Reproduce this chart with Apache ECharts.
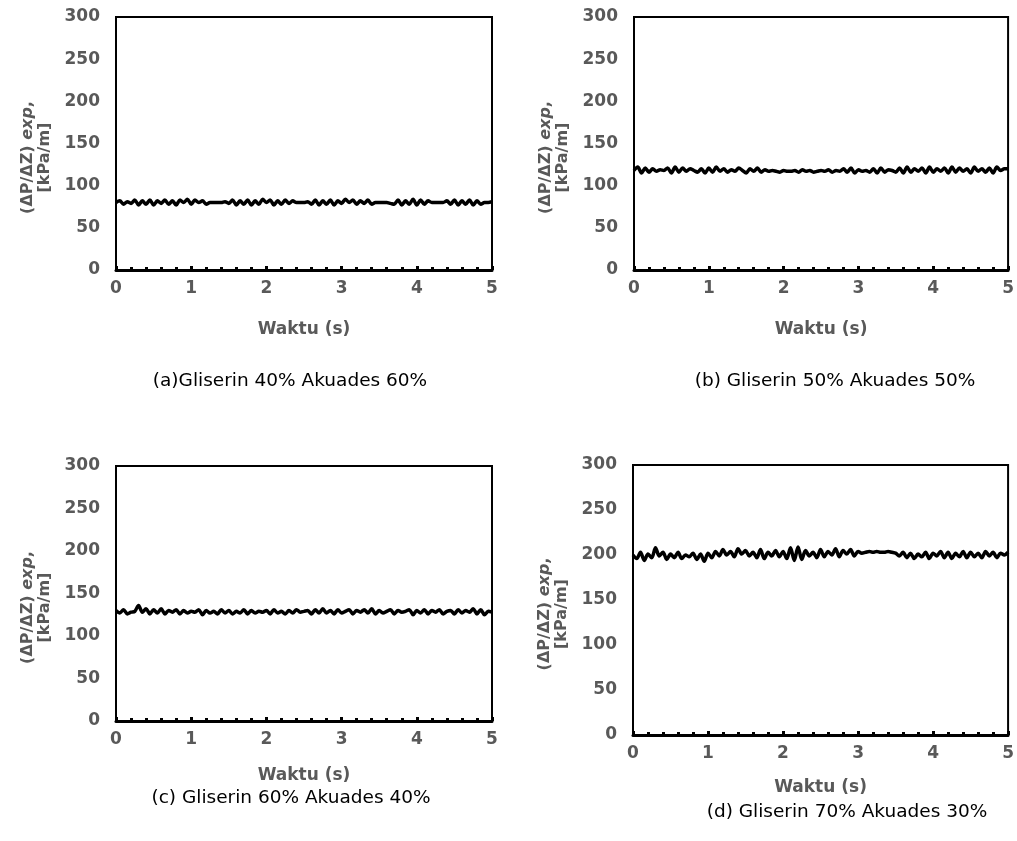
<!DOCTYPE html>
<html>
<head>
  <meta charset="UTF-8">
  <title>gliserin</title>
  <style>
  body { margin: 0; background: #fff; }
  #chart { width: 1017px; height: 841px; }
  </style>
  <script src="https://cdn.jsdelivr.net/npm/echarts@6/dist/echarts.min.js"></script>
</head>
<body>
  <div id="chart"></div>
  <script type="text/javascript">
  // sample step of the time axis (s)
  var step = 0.05;

  // (a) Gliserin 40% Akuades 60%
  var serA = [80,82,78,81,79,83,77,82,78,83,
    77,82,79,83,78,82,77,83,80,84,
    78,83,80,82,78,80,80,80,80,81,
    79,83,77,82,78,83,77,82,78,84,
    80,83,77,82,78,83,79,82,80,80,
    80,81,78,83,77,82,78,83,77,82,
    79,84,80,83,78,82,79,83,78,80,
    80,80,80,79,78,83,77,82,78,84,
    77,83,78,82,80,80,80,80,82,78,
    83,77,82,78,83,77,82,78,80,80,
    81];
  // (b) Gliserin 50% Akuades 50%
  var serB = [118,122,115,121,116,120,117,119,118,121,
    115,122,116,121,117,120,118,116,120,115,
    121,116,122,117,120,116,119,117,121,118,
    115,120,117,121,116,119,117,118,117,116,
    118,117,117,118,116,119,117,118,116,117,
    118,117,119,116,118,117,120,116,121,115,
    119,117,118,116,120,115,121,116,119,118,
    116,121,115,122,116,120,117,121,115,122,
    116,120,117,121,115,122,116,121,117,120,
    115,122,117,120,116,121,115,122,118,120,
    120];
  // (c) Gliserin 60% Akuades 40%
  var serC = [130,127,131,126,128,129,136,128,132,126,
    131,127,132,126,130,128,131,126,130,127,
    129,128,131,125,130,127,129,126,131,127,
    130,126,129,127,131,126,130,127,129,128,
    130,126,131,127,129,126,130,127,131,128,
    129,130,126,131,127,132,127,130,126,131,
    127,129,131,126,130,128,131,127,132,126,
    130,127,129,131,126,130,128,129,131,125,
    130,127,131,126,130,128,131,126,129,130,
    126,131,127,130,128,132,126,131,125,129,
    128];
  // (d) Gliserin 70% Akuades 30%
  var serD = [200,196,203,194,201,197,208,199,203,195,
    201,197,203,196,200,198,202,195,201,193,
    202,197,204,199,206,200,204,198,207,201,
    205,199,203,197,206,196,203,199,205,198,
    204,196,208,194,209,195,205,199,203,197,
    206,198,204,200,207,198,205,201,206,199,
    204,202,203,204,203,204,203,203,204,203,
    202,199,203,197,202,196,201,198,203,196,
    202,199,204,197,203,196,202,198,204,197,
    203,198,202,197,204,199,203,197,202,200,
    203];

  var captions = ['(a)Gliserin 40% Akuades 60%', '(b) Gliserin 50% Akuades 50%',
    '(c) Gliserin 60% Akuades 40%', '(d) Gliserin 70% Akuades 30%'];
  var xName = 'Waktu (s)';

  var grids = [
    { left: 116, top: 17, width: 376, height: 253 },
    { left: 634, top: 17, width: 375, height: 253 },
    { left: 116, top: 466, width: 376, height: 255 },
    { left: 633, top: 465, width: 376, height: 270 }
  ];
  var xNameGap = [51, 51, 46, 44];
  var capPos = [[290, 381], [835, 381], [291, 798], [847, 812]];
  var allSeries = [serA, serB, serC, serD];

  function pairs(arr) {
    var out = [];
    for (var i = 0; i < arr.length; i++) {
      out.push([+(i * step).toFixed(2), arr[i]]);
    }
    return out;
  }

  var gray = '#595959';
  var fam = 'DejaVu Sans, Arial';
  var labelFont = { color: gray, fontSize: 17, fontWeight: 'bold', fontFamily: fam };

  var option = { animation: false, grid: [], xAxis: [], yAxis: [], series: [], graphic: [] };

  for (var k = 0; k < 4; k++) {
    option.grid.push({
      left: grids[k].left, top: grids[k].top, width: grids[k].width, height: grids[k].height,
      show: true, borderColor: '#000', borderWidth: 2, containLabel: false
    });
    option.xAxis.push({
      gridIndex: k, type: 'value', min: 0, max: 5, interval: 1,
      name: xName, nameLocation: 'middle', nameGap: xNameGap[k],
      nameTextStyle: labelFont,
      axisLine: { show: true, onZero: false, lineStyle: { color: '#000', width: 3 } },
      axisTick: { show: true, inside: true, length: 4, lineStyle: { color: '#000', width: 3 } },
      minorTick: { show: true, splitNumber: 5, length: 3, lineStyle: { color: '#000', width: 3 } },
      axisLabel: Object.assign({ margin: 10 }, labelFont),
      splitLine: { show: false }
    });
    option.yAxis.push({
      gridIndex: k, type: 'value', min: 0, max: 300, interval: 50,
      name: '{n|(ΔP/ΔZ) }{i|exp}{n|,}\n{n|[kPa/m]}',
      nameLocation: 'middle', nameGap: 63, nameRotate: 90,
      nameTextStyle: {
        padding: [0, 28, 0, 0],
        rich: {
          n: { color: gray, fontSize: 16, fontWeight: 'bold', fontFamily: fam, lineHeight: 17 },
          i: { color: gray, fontSize: 16, fontWeight: 'bold', fontStyle: 'italic', fontFamily: fam, lineHeight: 17 }
        }
      },
      axisLine: { show: false },
      axisTick: { show: false },
      axisLabel: Object.assign({ margin: 16 }, labelFont),
      splitLine: { show: false }
    });
    option.series.push({
      type: 'line', xAxisIndex: k, yAxisIndex: k,
      data: pairs(allSeries[k]),
      showSymbol: false, smooth: 0.3,
      lineStyle: { color: '#000', width: 3.5 }
    });
    option.graphic.push({
      type: 'text', x: capPos[k][0], y: capPos[k][1],
      style: {
        text: captions[k], fill: '#000', fontSize: 18.5,
        fontFamily: fam, align: 'center', verticalAlign: 'middle'
      }
    });
  }

  var myChart = echarts.init(document.getElementById('chart'));
  myChart.setOption(option);
  </script>
</body>
</html>
